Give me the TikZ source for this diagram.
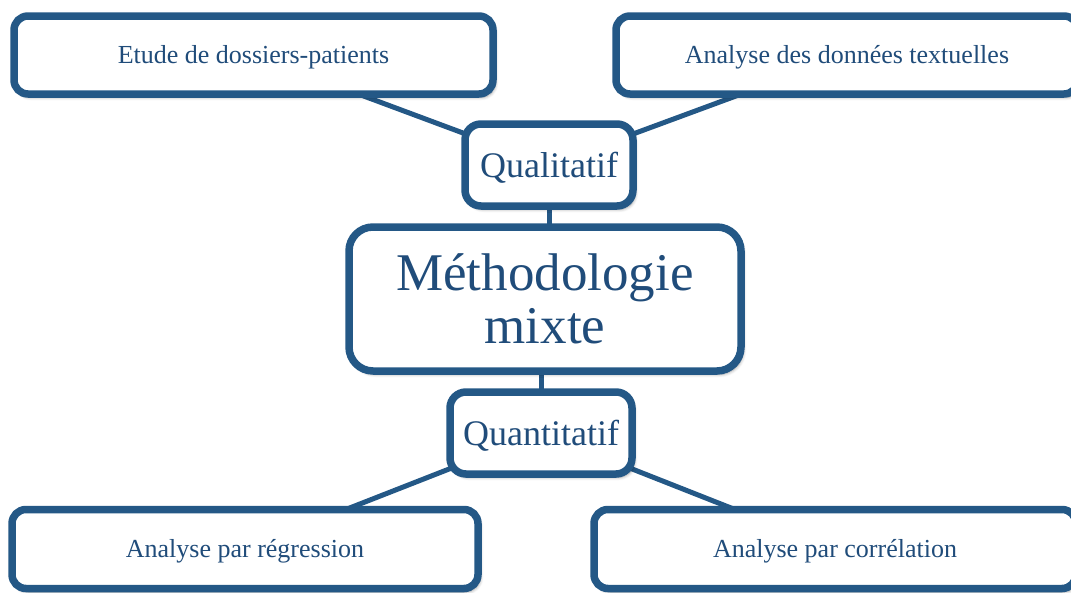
\documentclass[tikz,border=0pt]{standalone}
\usepackage{fontspec}
\setmainfont{Liberation Serif}
\usetikzlibrary{shadows.blur,backgrounds}
\definecolor{bordc}{RGB}{36,88,134}
\definecolor{txtc}{RGB}{32,76,122}
\begin{document}
\begin{tikzpicture}[x=1pt,y=-1pt,
  boxbase/.style={draw=bordc, line width=7.5pt, fill=white, text=txtc,
    inner sep=0pt, align=center,
    blur shadow={shadow xshift=2.5pt, shadow yshift=-3.5pt, shadow blur steps=6, shadow blur radius=3pt, shadow opacity=35}},
  leafbox/.style={boxbase, rounded corners=14pt, font=\fontsize{26}{28}\selectfont, text height=22pt, text depth=6pt},
  midbox/.style={boxbase, rounded corners=16pt, font=\fontsize{36}{38}\selectfont, text height=32pt, text depth=7pt},
  mainbox/.style={boxbase, rounded corners=24pt, font=\fontsize{53}{53}\selectfont},
  link/.style={draw=bordc, line width=5pt}]
\useasboundingbox (0,0) rectangle (1071,592);
\node[leafbox, minimum width=479pt, minimum height=78pt] (tl) at (253.5,55) {Etude de dossiers-patients};
\node[leafbox, minimum width=462pt, minimum height=78pt] (tr) at (847,55) {Analyse des données textuelles};
\node[midbox, minimum width=168pt, minimum height=82pt] (qual) at (549,165) {Qualitatif};
\node[mainbox, minimum width=392pt, minimum height=144pt] (meth) at (545,299) {Méthodologie\\mixte};
\node[midbox, minimum width=182pt, minimum height=82pt] (quant) at (541,433) {Quantitatif};
\node[leafbox, minimum width=466pt, minimum height=79pt] (bl) at (245,549) {Analyse par régression};
\node[leafbox, minimum width=482pt, minimum height=79pt] (br) at (835,549) {Analyse par corrélation};
\begin{scope}[on background layer]
\draw[link] (tl.center) -- (qual.center);
\draw[link] (tr.center) -- (qual.center);
\draw[link] (qual.center) -- (qual.center |- meth.center);
\draw[link] (quant.center |- meth.center) -- (quant.center);
\draw[link] (quant.center) -- (bl.center);
\draw[link] (quant.center) -- (br.center);
\end{scope}
\end{tikzpicture}
\end{document}
